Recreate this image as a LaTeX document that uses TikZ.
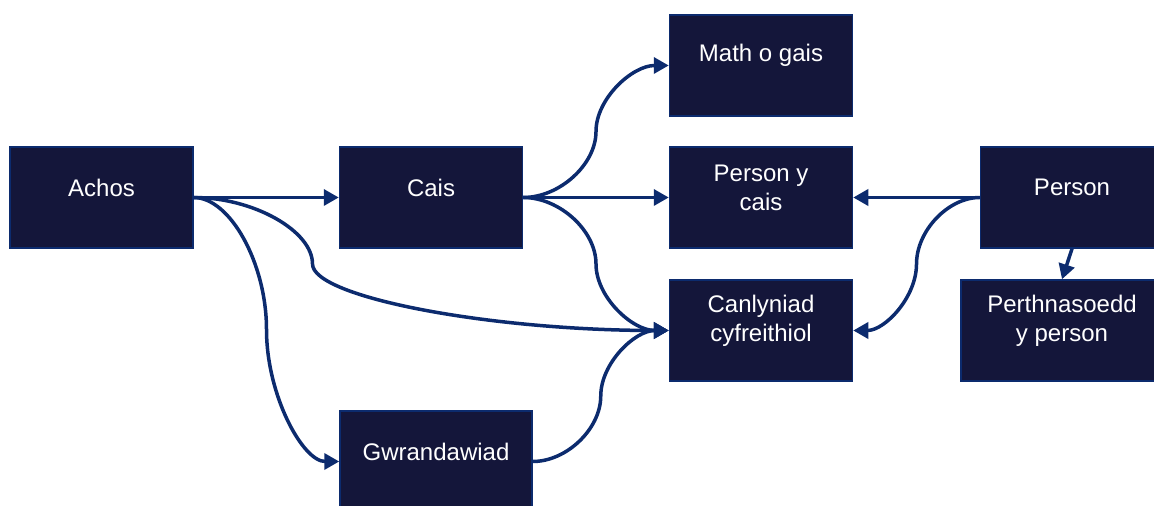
\documentclass[tikz,border=0pt]{standalone}
\usepackage{fontspec}
\setmainfont{Liberation Sans}
\usetikzlibrary{arrows.meta,calc}
\definecolor{boxnavy}{HTML}{14163A}
\definecolor{linkblue}{HTML}{0C2B6E}

\tikzset{
  boxtext/.style={text=white, align=center, yshift=5pt,
    font=\fontsize{12}{14.5}\selectfont},
  box/.style={draw=linkblue, line width=0.75pt, fill=boxnavy,
    minimum width=91.5pt, minimum height=50.5pt, inner sep=0pt,
    label={[boxtext]center:#1}},
  conn/.style={draw=linkblue, line width=1.75pt,
    -{Triangle[length=7.5pt,width=8pt]}},
  % elbow-like curved connector, #1 = where the bend sits
  curv/.style={to path={
    let \p1=(\tikztostart), \p2=(\tikztotarget),
        \n1={\x1+#1*(\x2-\x1)}, \n2={0.5*(\y1+\y2)} in
    .. controls ({0.5*(\x1+\n1)},\y1) and (\n1,{0.75*\y1+0.25*\y2}) .. (\n1,\n2)
    .. controls (\n1,{0.25*\y1+0.75*\y2}) and ({0.5*(\n1+\x2)},\y2) .. (\tikztotarget)
  }},
  curv/.default=0.5
}

\begin{document}
\begin{tikzpicture}[x=0.5pt,y=-0.5pt]
  \useasboundingbox (0,0) rectangle (1154,506);

  % boxes
  \node[box=Achos] (achos) at (101.5,197.5) {};
  \node[box=Cais] (cais) at (431,197.5) {};
  \node[box=Math o gais] (math) at (761,65.5) {};
  \node[box={Person y\\cais}] (pcais) at (761,197.5) {};
  \node[box={Canlyniad\\cyfreithiol}] (canlyn) at (761,330.5) {};
  \node[box=Person] (person) at (1072,197.5) {};
  \node[box={Perthnasoedd\\y person}, minimum width=101pt] (perth) at (1062,330.5) {};
  \node[box=Gwrandawiad, minimum width=96pt] (gwrand) at (436,461.5) {};

  % connectors
  \draw[conn] (achos.east) -- (cais.west);
  \draw[conn] (achos.east) to[curv=0.25] (canlyn.west);
  \draw[conn] (achos.east) to[curv] (gwrand.west);
  \draw[conn] (cais.east) to[curv] (math.west);
  \draw[conn] (cais.east) -- (pcais.west);
  \draw[conn] (cais.east) to[curv] (canlyn.west);
  \draw[conn] (gwrand.east) to[curv] (canlyn.west);
  \draw[conn] (person.west) -- (pcais.east);
  \draw[conn] (person.west) to[curv] (canlyn.east);
  \draw[conn] (person.south) -- (perth.north);
\end{tikzpicture}
\end{document}
